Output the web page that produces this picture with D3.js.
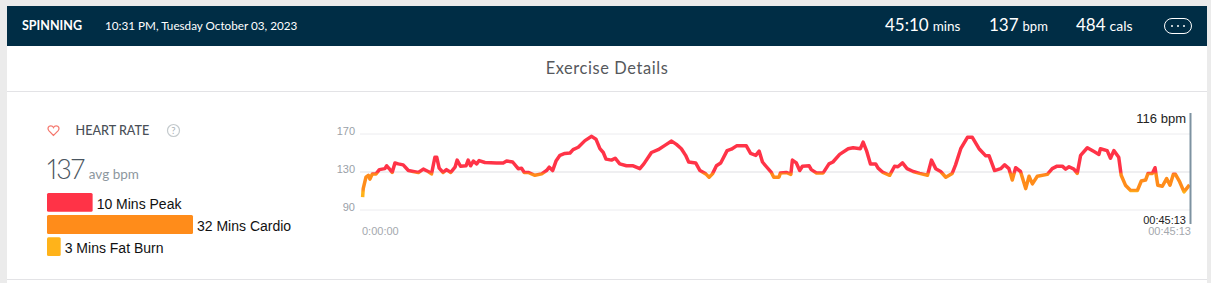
<!DOCTYPE html>
<html>
<head>
<meta charset="utf-8">
<script src="https://cdn.jsdelivr.net/npm/d3@7"></script>
<style>
  body { margin: 0; background: #ebebeb; overflow: hidden; }
  svg { display: block; }
  .head { font-family: Lato, sans-serif; fill: #fff; }
  .arial { font-family: "Liberation Sans", Arial, sans-serif; }
</style>
</head>
<body>
<div id="chart"></div>
<script>
// elapsed seconds / bpm
var seconds = [2,4,13,21,26,34,46,57,75,81,92,99,108,119,135,152,168,185,201,217,228,239,245,253,266,277,291,305,312,323,341,348,356,365,376,384,403,441,463,474,494,512,523,532,545,567,589,605,614,625,636,649,665,682,692,709,731,753,767,780,791,800,818,830,845,867,889,911,
  924,949,971,993,1015,1031,1047,1061,1071,1094,1108,1127,1138,1149,1162,1176,1197,1211,1228,1260,1274,1291,1302,1313,1326,1342,1350,1367,1372,1391,1406,1411,1424,1435,1444,1466,1473,1490,1512,1531,1544,1566,1594,1610,1634,1643,1654,1667,1684,1692,1708,1730,1746,1757,1772,1787,1807,
  1828,1854,1867,1881,1897,1914,1935,1946,1963,1985,2001,2023,2045,2056,2074,2094,2107,2121,2132,2143,2159,2176,2187,2198,2214,2247,2263,2279,2296,2307,2318,2334,2345,2356,2378,2400,2416,2421,2443,2454,2465,2481,2489,2503,2520,2542,2555,2569,2577,2591,2600,2609,2624,2638,2649,2660,2667,2681,2695,2713];
var bpm = [103,112,124,126,122,127.5,127.5,132,133,136,132,129,139,138,137,131,130,129,132.5,130,127.5,145,145,133.5,129,132,129,134.5,142,135.5,136,142,136,141,138,141.5,139.5,139,139,141,140,133,133.5,129,129,126,127.5,131,134.5,131,141,147,149,149.5,153,155.5,162.5,167,164,154,150,143,142,144,138,136,136,133,
  138,150,153,157.5,162,158.5,154,147,140,139,131,127.5,124,127.5,136,139,152,153.5,157,157,149,147,151.5,140,135,129,124,124,128.5,129,127,142,139,131,135.5,136,132,128.5,128.5,138,140,148,154,155,154,161,152,138,138,133.5,129,126,135.5,135,139,133,130,
  128,126,142,133,130,124,128,137,154,166,166,154,146.5,146.5,131,133,137,133,121,134,130,112,125,117,125,127,133,135.6,135.6,132.5,135,132.5,128,147,155,151,148,154,152,144,152,145,126,115.6,110,110,120,121,128,128,134,115.6,114.5,122.6,115.6,127,127,119,108.6,116];

var bpmTicks = [90, 130, 170];
var zoneNames = ["10 Mins Peak", "32 Mins Cardio", "3 Mins Fat Burn"];
var zoneMinutes = [10, 32, 3];
var zoneColors = ["#ff3347", "#ff8c1a", "#ffb31a"];

var width = 1211, height = 283;

var svg = d3.select("#chart").append("svg")
  .attr("width", width)
  .attr("height", height);

/* PANEL AND HEADER */
svg.append("rect").attr("x", 7).attr("y", 6).attr("width", 1200).attr("height", 277).attr("fill", "#fff");
svg.append("rect").attr("x", 7).attr("y", 6).attr("width", 1200).attr("height", 40).attr("fill", "#002d45");
svg.append("rect").attr("x", 7).attr("y", 91).attr("width", 1200).attr("height", 1).attr("fill", "#e3e3e6");
svg.append("rect").attr("x", 7).attr("y", 279).attr("width", 1200).attr("height", 1).attr("fill", "#e3e3e6");

var head = svg.append("g").attr("class", "head");
head.append("text").attr("x", 22).attr("y", 30).attr("font-size", 12.5).attr("font-weight", 700).text("SPINNING");
head.append("text").attr("x", 105).attr("y", 30).attr("font-size", 11.7).text("10:31 PM, Tuesday October 03, 2023");

var stats = [[885, "45:10", "mins", 13.5], [989, "137", "bpm", 13], [1076, "484", "cals", 14]];
stats.forEach(function(s) {
  var t = head.append("text").attr("x", s[0]).attr("y", 31);
  t.append("tspan").attr("font-size", 17).text(s[1]);
  t.append("tspan").attr("font-size", s[3]).attr("dx", 4).text(s[2]);
});

svg.append("rect").attr("x", 1164.5).attr("y", 18.5).attr("width", 27).attr("height", 15).attr("rx", 7.5)
  .attr("fill", "none").attr("stroke", "#fff").attr("stroke-width", 1);
svg.selectAll(".dot").data([1172, 1178, 1184]).enter().append("circle")
  .attr("cx", d => d).attr("cy", 26).attr("r", 1).attr("fill", "#fff");

svg.append("text").attr("x", 607).attr("y", 74).attr("text-anchor", "middle")
  .attr("font-family", "Lato, sans-serif").attr("font-size", 16.4).attr("letter-spacing", 0.6).attr("fill", "#56585c")
  .text("Exercise Details");

/* LEFT SUMMARY */
svg.append("path")
  .attr("d", "M53.5 135.5 L48.8 130.6 C47 128.4 48.4 125.8 50.8 125.8 C52 125.8 53 126.6 53.5 127.6 C54 126.6 55 125.8 56.2 125.8 C58.6 125.8 60 128.4 58.2 130.6 Z")
  .attr("fill", "none").attr("stroke", "#f5766c").attr("stroke-width", 1.2);
svg.append("text").attr("x", 75.5).attr("y", 135).attr("font-family", "Lato, sans-serif").attr("font-size", 12.6)
  .attr("font-weight", 500).attr("fill", "#4a4f57").text("HEART RATE");
svg.append("circle").attr("cx", 173.5).attr("cy", 130.5).attr("r", 6).attr("fill", "none").attr("stroke", "#c4cacd").attr("stroke-width", 1.2);
svg.append("text").attr("x", 173.5).attr("y", 134).attr("text-anchor", "middle").attr("font-family", "Lato, sans-serif")
  .attr("font-size", 9.5).attr("fill", "#a9b1b5").text("?");

var avg = svg.append("text").attr("x", 47).attr("y", 179).attr("font-family", "Lato, sans-serif").attr("fill", "#4a5560");
avg.append("tspan").attr("font-size", 27).attr("font-weight", 300)
  .style("font-variant-numeric", "proportional-nums").attr("letter-spacing", -1).text("137");
avg.append("tspan").attr("font-size", 13.5).attr("dx", 5).attr("fill", "#8d979e").text("avg bpm");

var barLength = d3.scaleLinear().domain([0, 32]).range([0, 146]);
var barRow = d3.scaleBand().domain(zoneNames).range([193, 256]).paddingInner(0.15);

svg.selectAll(".zone").data(zoneNames).enter().append("rect")
  .attr("class", "zone")
  .attr("x", 47)
  .attr("y", d => barRow(d))
  .attr("width", (d, i) => barLength(zoneMinutes[i]))
  .attr("height", barRow.bandwidth())
  .attr("rx", 1.5)
  .attr("fill", (d, i) => zoneColors[i]);

svg.selectAll(".zoneLabel").data(zoneNames).enter().append("text")
  .attr("class", "zoneLabel arial")
  .attr("x", (d, i) => 47 + barLength(zoneMinutes[i]) + 4)
  .attr("y", d => barRow(d) + 16)
  .attr("font-size", 14)
  .attr("fill", "#111")
  .text(d => d);

/* HEART RATE LINE */
var x = d3.scaleLinear().domain([0, 2713]).range([362, 1189.5]);
var y = d3.scaleLinear().domain([90, 170]).range([209.5, 133.5]);

var yAxis = d3.axisLeft(y).tickValues(bpmTicks).tickSize(-830).tickPadding(5);
var gAxis = svg.append("g").attr("transform", "translate(360,0)").call(yAxis);
gAxis.select(".domain").remove();
gAxis.selectAll(".tick line").attr("stroke", "#ececef");
gAxis.selectAll(".tick line").filter(d => d === 130).attr("stroke", "#dfdfe3");
gAxis.selectAll(".tick text")
  .attr("class", "arial").attr("font-size", 11).attr("fill", "#9a9fa8").attr("dy", "0.1em");

// colour of the line depends on its bpm zone
var peakLimit = 129, burnLimit = 111;
var grad = svg.append("defs").append("linearGradient")
  .attr("id", "zones")
  .attr("gradientUnits", "userSpaceOnUse")
  .attr("x1", 0).attr("x2", 0)
  .attr("y1", y(170)).attr("y2", y(90));
function offset(v) { return (y(v) - y(170)) / (y(90) - y(170)); }
[[peakLimit + 0.5, zoneColors[0]], [peakLimit - 1.5, zoneColors[1]], [burnLimit, zoneColors[1]], [burnLimit - 3, zoneColors[2]]]
  .forEach(function(s) {
    grad.append("stop").attr("offset", offset(s[0])).attr("stop-color", s[1]);
  });

var line = d3.line().x((d, i) => x(seconds[i])).y((d, i) => y(d));

svg.append("path")
  .attr("d", line(bpm))
  .attr("fill", "none")
  .attr("stroke", "url(#zones)")
  .attr("stroke-width", 3.5)
  .attr("stroke-linejoin", "round");

/* CURSOR AND LABELS */
svg.append("line").attr("x1", 1190.5).attr("x2", 1190.5).attr("y1", 113).attr("y2", 224)
  .attr("stroke", "#7d92a1").attr("stroke-width", 2);
svg.append("text").attr("class", "arial").attr("x", 1186).attr("y", 123).attr("text-anchor", "end")
  .attr("font-size", 13).attr("fill", "#222").text("116 bpm");
svg.append("text").attr("class", "arial").attr("x", 1186).attr("y", 224).attr("text-anchor", "end")
  .attr("font-size", 11).attr("fill", "#222").text("00:45:13");
svg.append("text").attr("class", "arial").attr("x", 1191).attr("y", 235).attr("text-anchor", "end")
  .attr("font-size", 11).attr("fill", "#a4a8ae").text("00:45:13");
svg.append("text").attr("class", "arial").attr("x", 362).attr("y", 235)
  .attr("font-size", 11).attr("fill", "#a4a8ae").text("0:00:00");
</script>
</body>
</html>
